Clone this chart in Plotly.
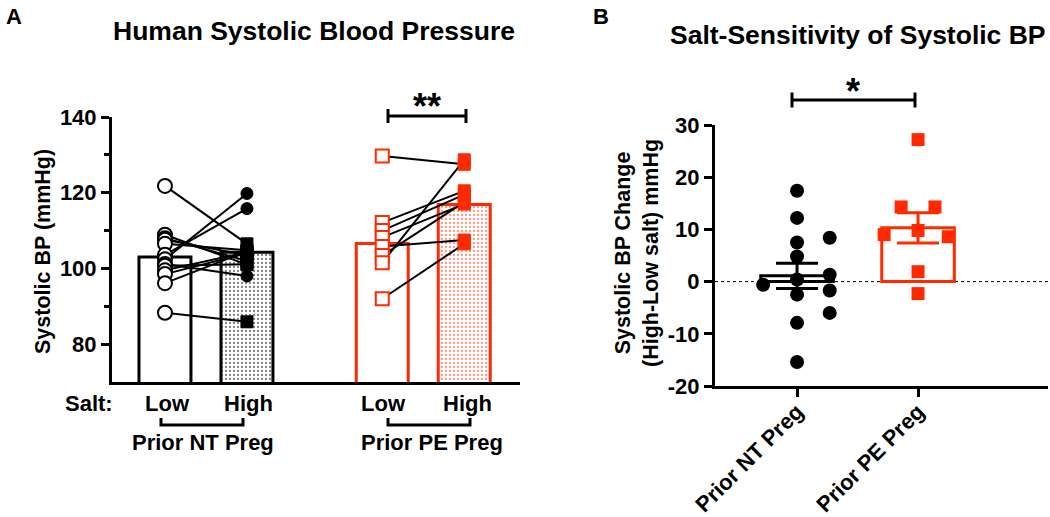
import plotly.graph_objects as go

# ---------------- data ----------------
# Panel A: systolic BP (mmHg), each subject on low and high salt
nt_low = [121.8, 108.9, 108.0, 107.6, 106.5, 103.6, 102.4, 101.2, 100.7, 99.5, 98.5, 96.1, 88.3]
nt_high = [106.5, 101.0, 102.0, 103.5, 104.8, 115.8, 119.8, 98.0, 101.1, 104.3, 104.0, 104.5, 85.9]
pe_low = [129.7, 112.1, 110.0, 108.2, 105.8, 103.4, 101.5, 92.0]
pe_high = [127.5, 120.5, 119.5, 117.0, 107.5, 117.5, 128.7, 106.5]
bar_labels = ["Low", "High", "Low", "High"]
bar_means = [103.0, 104.3, 106.6, 116.9]
group_labels = ["Prior NT Preg", "Prior PE Preg"]
ticks_a = [80, 100, 120, 140]

# Panel B: change in systolic BP (high - low salt)
nt_change = [17.4, 12.2, 7.5, 8.4, 4.8, 0.4, 1.3, -0.6, -2.5, -1.7, -6.0, -7.9, -15.4]
pe_change = [27.2, 14.3, 14.3, 9.0, 9.8, 8.6, 1.9, -2.3]
change_means = [1.1, 10.3]
change_sem = [2.4, 2.9]
ticks_b = [-20, -10, 0, 10, 20, 30]

# ---------------- layout constants ----------------
W, H = 1050, 517
RED = "#ff2a00"
FONT = "Arial, 'Liberation Sans', sans-serif"
bar_x = [1.0, 2.0, 3.65, 4.65]
nt_high_symbol = ["square", "square", "square", "square", "square", "circle", "circle",
                  "circle", "square", "square", "square", "square", "square"]
nt_jitter = [0, 0, 0, 0.27, 0, 0, 0.27, -0.28, 0, 0.27, 0.27, 0, 0]
pe_jitter = [0, -0.14, 0.14, -0.28, 0, 0.25, 0, 0]


def X(px):
    return px / W


def Y(py):
    return 1 - py / H


fig = go.Figure()

# ---------------- Panel A ----------------
fig.add_trace(go.Bar(
    x=bar_x, y=bar_means, width=0.634,
    marker=dict(color="white",
                line=dict(color=["black", "black", RED, RED], width=3),
                pattern=dict(shape=["", ".", "", "."], fgcolor=["black", "black", RED, RED],
                             bgcolor="white", size=4, solidity=0.25)),
    xaxis="x", yaxis="y", showlegend=False, hoverinfo="skip"))

lx, ly = [], []
for a, b in zip(nt_low, nt_high):
    lx += [bar_x[0], bar_x[1], None]
    ly += [a, b, None]
for a, b in zip(pe_low, pe_high):
    lx += [bar_x[2], bar_x[3], None]
    ly += [a, b, None]
fig.add_trace(go.Scatter(x=lx, y=ly, mode="lines", line=dict(color="black", width=2),
                         xaxis="x", yaxis="y", showlegend=False, hoverinfo="skip"))

fig.add_trace(go.Scatter(x=[bar_x[0]] * len(nt_low), y=nt_low, mode="markers",
                         marker=dict(symbol="circle", size=14, color="white",
                                     line=dict(color="black", width=2)),
                         xaxis="x", yaxis="y", showlegend=False))
fig.add_trace(go.Scatter(x=[bar_x[1]] * len(nt_high), y=nt_high, mode="markers",
                         marker=dict(symbol=nt_high_symbol, size=12, color="black",
                                     line=dict(color="black", width=1)),
                         xaxis="x", yaxis="y", showlegend=False))
fig.add_trace(go.Scatter(x=[bar_x[2]] * len(pe_low), y=pe_low, mode="markers",
                         marker=dict(symbol="square", size=13, color="white",
                                     line=dict(color=RED, width=2)),
                         xaxis="x", yaxis="y", showlegend=False))
fig.add_trace(go.Scatter(x=[bar_x[3]] * len(pe_high), y=pe_high, mode="markers",
                         marker=dict(symbol="square", size=12, color=RED,
                                     line=dict(color=RED, width=1)),
                         xaxis="x", yaxis="y", showlegend=False))

# ---------------- Panel B ----------------
fig.add_trace(go.Bar(
    x=[0, 1], y=change_means, width=0.6,
    marker=dict(color="white", line=dict(color=["black", RED], width=3)),
    xaxis="x2", yaxis="y2", showlegend=False, hoverinfo="skip"))

fig.add_trace(go.Scatter(x=[0 + j for j in nt_jitter], y=nt_change, mode="markers",
                         marker=dict(symbol="circle", size=14, color="black"),
                         xaxis="x2", yaxis="y2", showlegend=False))
fig.add_trace(go.Scatter(x=[1 + j for j in pe_jitter], y=pe_change, mode="markers",
                         marker=dict(symbol="square", size=13, color=RED),
                         xaxis="x2", yaxis="y2", showlegend=False))

for i, col in enumerate(["black", RED]):
    fig.add_trace(go.Scatter(x=[i], y=[change_means[i]], mode="markers",
                             marker=dict(size=1, color="rgba(0,0,0,0)"),
                             error_y=dict(type="data", array=[change_sem[i]], color=col,
                                          thickness=3, width=21),
                             xaxis="x2", yaxis="y2", showlegend=False, hoverinfo="skip"))

# ---------------- axes ----------------
axis_common = dict(showline=True, linecolor="black", linewidth=3, showgrid=False,
                   zeroline=False, ticks="outside", tickcolor="black", tickwidth=3,
                   ticklen=8, automargin=False,
                   tickfont=dict(family=FONT, size=22, color="black", weight="bold"))

fig.update_layout(
    width=W, height=H, autosize=False,
    margin=dict(l=0, r=0, t=0, b=0, pad=0, autoexpand=False),
    paper_bgcolor="white", plot_bgcolor="white",
    font=dict(family=FONT, color="black", weight="bold"),
    xaxis=dict(domain=[X(112), X(520)], range=[0.354, 5.33], anchor="y",
               showline=True, linecolor="black", linewidth=3, showgrid=False,
               zeroline=False, showticklabels=False, ticks="", automargin=False),
    yaxis=dict(domain=[Y(382), Y(117)], range=[70, 140], anchor="x",
               tickmode="array", tickvals=ticks_a, ticktext=[str(t) for t in ticks_a],
               minor=dict(tickmode="array", tickvals=[90, 110, 130], ticks="outside",
                          ticklen=5, tickwidth=3, tickcolor="black", showgrid=False),
               **axis_common),
    xaxis2=dict(domain=[X(715), X(1048)], range=[-0.678, 2.074], anchor="y2",
                tickmode="array", tickvals=[0, 1], ticktext=group_labels, tickangle=-45,
                ticklabelstandoff=-7,
                **axis_common),
    yaxis2=dict(domain=[Y(386), Y(125)], range=[-20, 30], anchor="x2",
                tickmode="array", tickvals=ticks_b, ticktext=[str(t) for t in ticks_b],
                **axis_common),
)

# dotted zero line (panel B)
fig.add_shape(type="line", xref="x2", yref="y2", x0=-0.678, x1=2.074, y0=0, y1=0,
              line=dict(color="black", width=1, dash="dot"), layer="below")


def bracket(x0, x1, yb, ytip, width=3):
    p = f"M {X(x0)},{Y(ytip)} L {X(x0)},{Y(yb)} L {X(x1)},{Y(yb)} L {X(x1)},{Y(ytip)}"
    fig.add_shape(type="path", xref="paper", yref="paper", path=p,
                  line=dict(color="black", width=width))


def tbar(x0, x1, yb, half):
    fig.add_shape(type="line", xref="paper", yref="paper", x0=X(x0), x1=X(x1), y0=Y(yb), y1=Y(yb),
                  line=dict(color="black", width=3))
    for xx in (x0, x1):
        fig.add_shape(type="line", xref="paper", yref="paper", x0=X(xx), x1=X(xx),
                      y0=Y(yb - half), y1=Y(yb + half), line=dict(color="black", width=3))


# group brackets under panel A
bracket(161, 243, 425, 418)
bracket(388, 470, 425, 418)
# significance bars
tbar(388, 466, 116, 7)
tbar(792, 915, 100, 7.5)


def txt(s, px, py, size, angle=0, xanchor="center"):
    fig.add_annotation(text=s, x=X(px), y=Y(py), xref="paper", yref="paper",
                       showarrow=False, textangle=angle, xanchor=xanchor, yanchor="middle",
                       font=dict(family=FONT, size=size, color="black", weight="bold"))


txt("A", 14, 16, 22)
txt("B", 601, 16, 22)
txt("Human Systolic Blood Pressure", 314, 31, 26.5)
txt("Salt-Sensitivity of Systolic BP", 858, 35, 26.5)
txt("Systolic BP (mmHg)", 43, 252, 21.5, angle=-90)
txt("Systolic BP Change<br>(High-Low salt) mmHg", 637, 253, 21.5, angle=-90)
txt("Salt:", 89, 403, 22)
for lab, px in zip(bar_labels, [167, 248, 383, 467]):
    txt(lab, px, 403, 22)
txt(group_labels[0], 203, 442, 22)
txt(group_labels[1], 432, 442, 22)
txt("**", 427, 106, 36)
txt("*", 853, 92, 36)

fig.write_html("out.html", config={"displayModeBar": False},
               post_script="document.body.style.margin='0';document.body.style.overflow='hidden';")
